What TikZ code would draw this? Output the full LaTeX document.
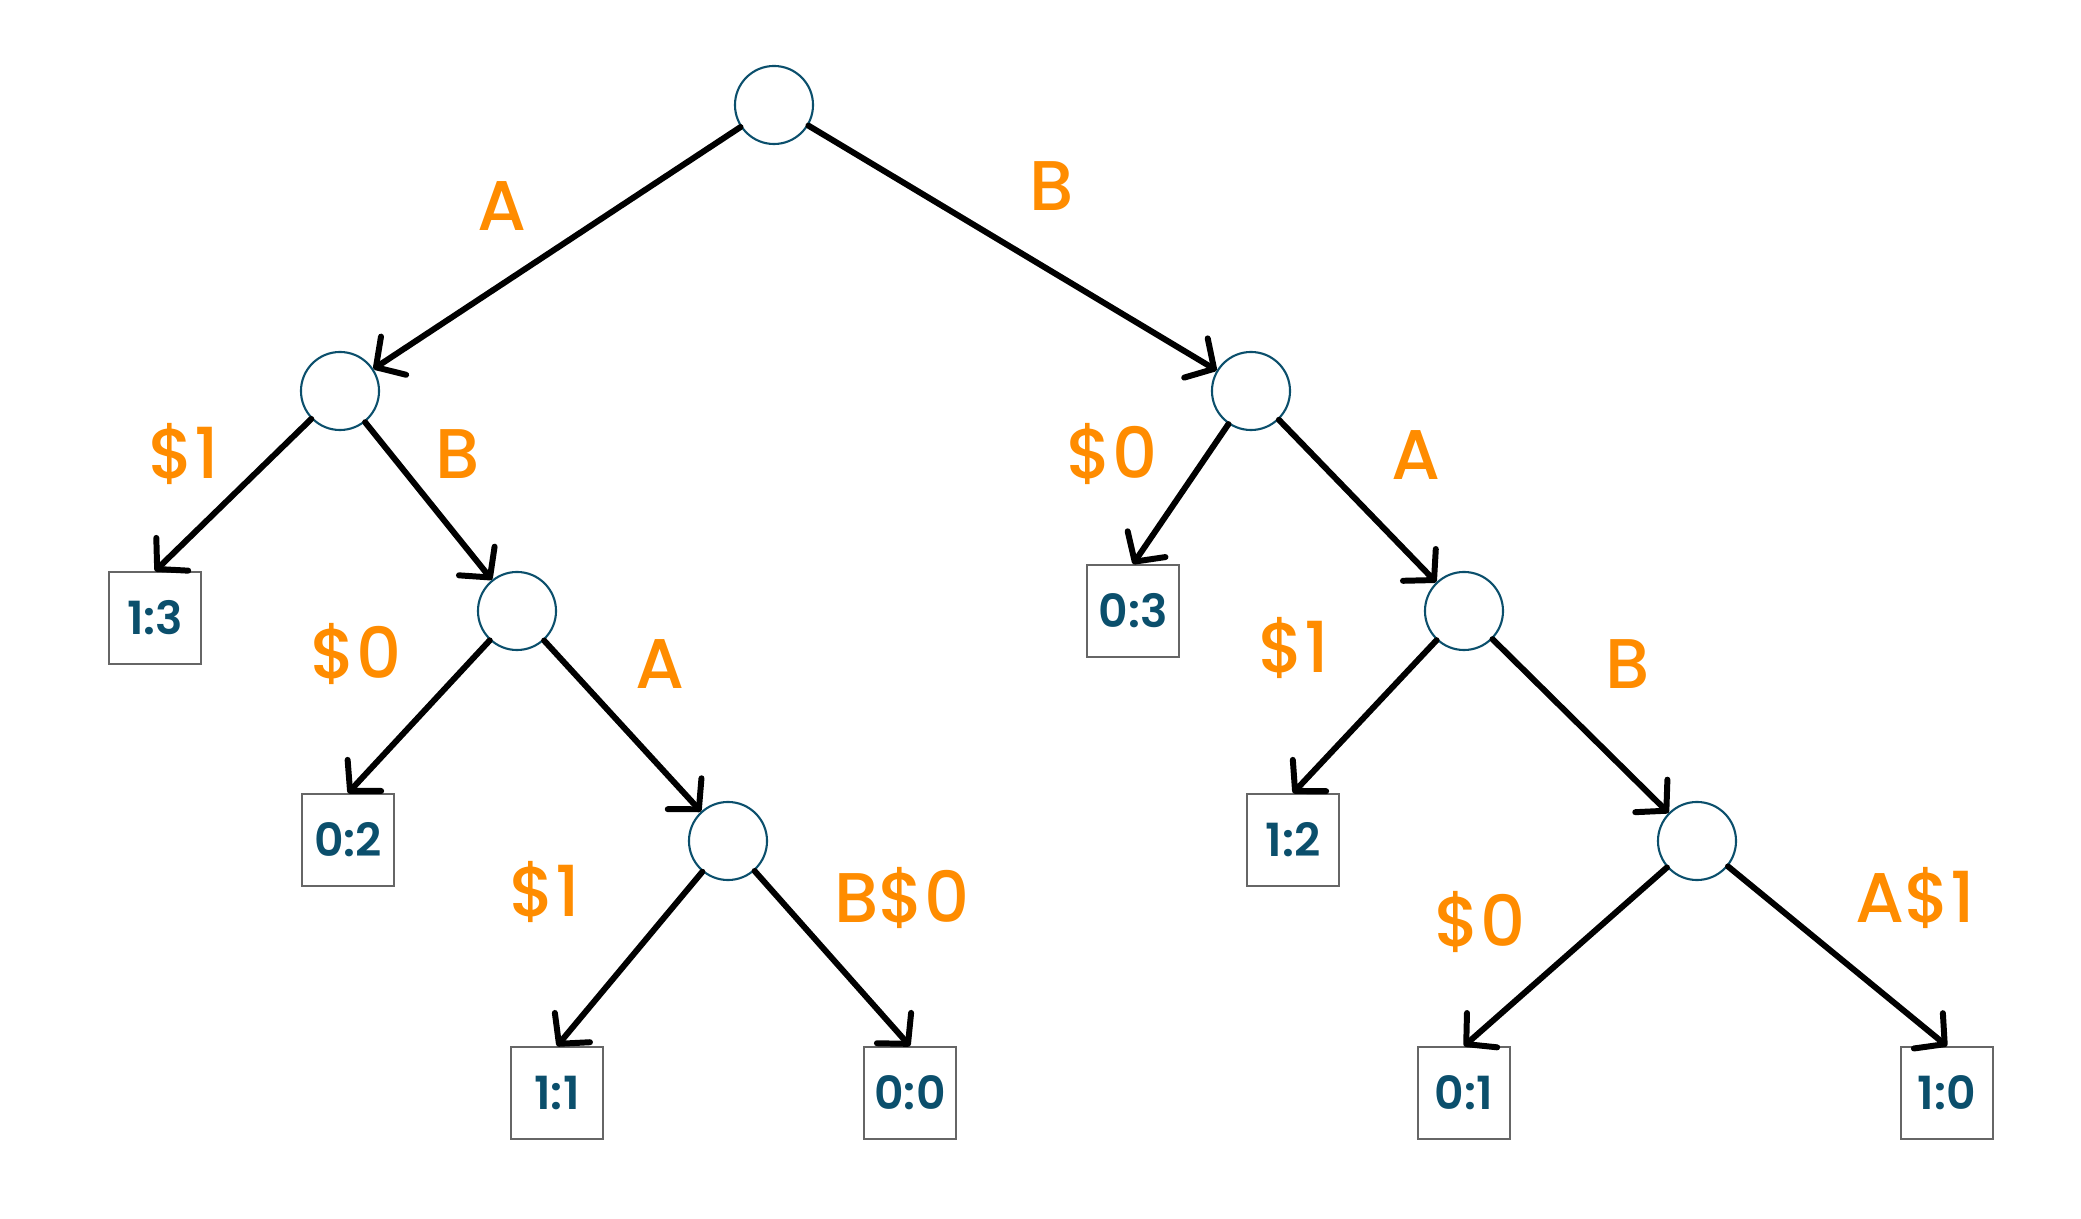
\documentclass[tikz,border=0pt]{standalone}
\usepackage{fontspec}
\setmainfont{Poppins}
\newfontfamily\labelfont{Poppins Medium}
\newfontfamily\leaffont{Poppins SemiBold}
\usepackage{xcolor}
\usetikzlibrary{arrows.meta}
\definecolor{nodeblue}{HTML}{0B4F6C}
\definecolor{edgeorange}{HTML}{FF8C00}

\begin{document}
\begin{tikzpicture}[
    x=0.01cm, y=-0.01cm,
    state/.style={circle, draw=nodeblue, line width=0.6pt, minimum size=0.78cm, inner sep=0pt},
    leaf/.style={rectangle, draw=black!60, line width=0.5pt, minimum size=0.92cm, inner sep=0pt, font=\fontsize{13}{13}\leaffont, text=nodeblue},
    lbl/.style={font=\fontsize{20}{20}\labelfont, text=edgeorange},
    arrow/.style={-{Straight Barb[length=6pt,width=13pt,round]}, line width=1.7pt, line cap=round}
]
\useasboundingbox (0,0) rectangle (2081,1219);

% Inner states
\node[state] (root) at (774,105) {};
\node[state] (nA) at (340,391) {};
\node[state] (nB) at (1251,391) {};
\node[state] (nAB) at (517,611) {};
\node[state] (nABA) at (728,841) {};
\node[state] (nBA) at (1464,611) {};
\node[state] (nBAB) at (1697,841) {};

% Leaves
\node[leaf] (s13) at (155,618) {1:3};
\node[leaf] (s02) at (348,840) {0:2};
\node[leaf] (s11) at (557,1093) {1:1};
\node[leaf] (s00) at (910,1093) {0:0};
\node[leaf] (s03) at (1133,611) {0:3};
\node[leaf] (s12) at (1293,840) {1:2};
\node[leaf] (s01) at (1464,1093) {0:1};
\node[leaf] (s10) at (1947,1093) {1:0};

% Edge labels
\node[lbl] (tA) at (502,206) {A};
\node[lbl] (tB) at (1052,186) {B};
\node[lbl] (tA1) at (184,454) {\$1};
\node[lbl] (tAB) at (458,454) {B};
\node[lbl] (tAB0) at (356,654) {\$0};
\node[lbl] (tABA) at (660,664) {A};
\node[lbl] (tABA1) at (545,892) {\$1};
\node[lbl] (tABAB0) at (902,898) {B\$0};
\node[lbl] (tB0) at (1112,454) {\$0};
\node[lbl] (tBA) at (1416,455) {A};
\node[lbl] (tBA1) at (1294,648) {\$1};
\node[lbl] (tBAB) at (1628,664) {B};
\node[lbl] (tBAB0) at (1480,922) {\$0};
\node[lbl] (tBABA1) at (1915,898) {A\$1};

% Paths
\draw[arrow] (root) -- (nA);
\draw[arrow] (root) -- (nB);
\draw[arrow] (nA) -- (s13.north);
\draw[arrow] (nA) -- (nAB);
\draw[arrow] (nAB) -- (s02.north);
\draw[arrow] (nAB) -- (nABA);
\draw[arrow] (nABA) -- (s11.north);
\draw[arrow] (nABA) -- (s00.north);
\draw[arrow] (nB) -- (s03.north);
\draw[arrow] (nB) -- (nBA);
\draw[arrow] (nBA) -- (s12.north);
\draw[arrow] (nBA) -- (nBAB);
\draw[arrow] (nBAB) -- (s01.north);
\draw[arrow] (nBAB) -- (s10.north);

\end{tikzpicture}
\end{document}
